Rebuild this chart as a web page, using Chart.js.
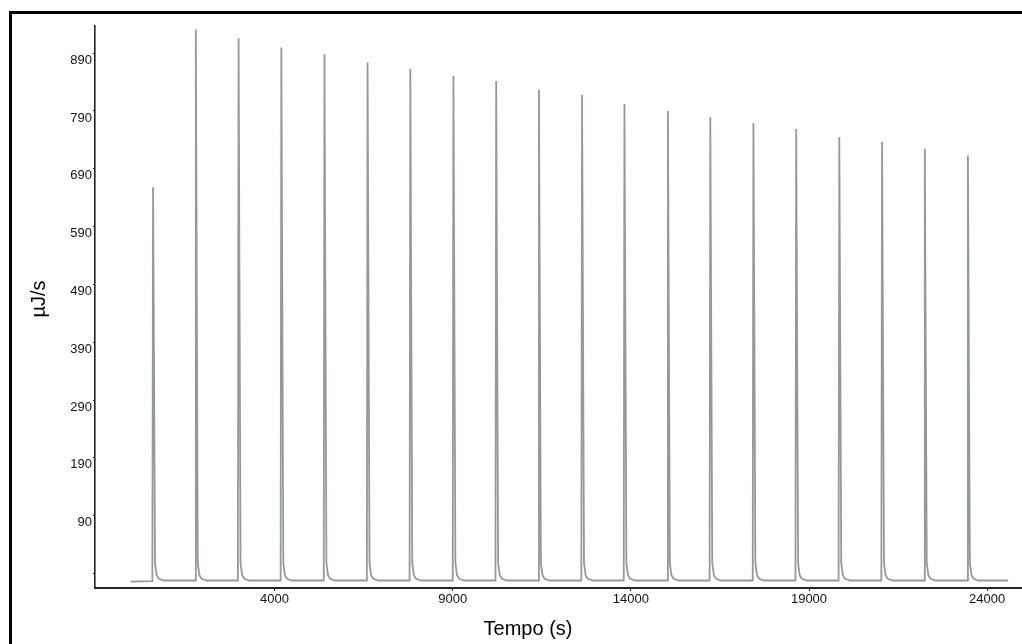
<!DOCTYPE html>
<html>
<head>
<meta charset="utf-8">
<script src="https://cdn.jsdelivr.net/npm/chart.js@4/dist/chart.umd.min.js"></script>
<style>
  html, body { margin: 0; padding: 0; background: #fff; }
  canvas { display: block; }
</style>
</head>
<body>
<canvas id="myChart" width="1022" height="644"></canvas>
<script>
// time (s) of each point, one peak per line
const timeS = [
  -40,
  570, 590, 645, 690, 750, 890,
  1770, 1790, 1845, 1890, 1950, 2090,
  2970, 2990, 3045, 3090, 3150, 3290,
  4170, 4190, 4245, 4290, 4350, 4490,
  5380, 5400, 5455, 5500, 5560, 5700,
  6590, 6610, 6665, 6710, 6770, 6910,
  7790, 7810, 7865, 7910, 7970, 8110,
  9000, 9020, 9075, 9120, 9180, 9320,
  10200, 10220, 10275, 10320, 10380, 10520,
  11400, 11420, 11475, 11520, 11580, 11720,
  12610, 12630, 12685, 12730, 12790, 12930,
  13800, 13820, 13875, 13920, 13980, 14120,
  15020, 15040, 15095, 15140, 15200, 15340,
  16210, 16230, 16285, 16330, 16390, 16530,
  17420, 17440, 17495, 17540, 17600, 17740,
  18620, 18640, 18695, 18740, 18800, 18940,
  19830, 19850, 19905, 19950, 20010, 20150,
  21030, 21050, 21105, 21150, 21210, 21350,
  22230, 22250, 22305, 22350, 22410, 22550,
  23440, 23460, 23515, 23560, 23620, 23760,
  24590
];

// heat flow (uJ/s) at those times
const heatFlow = [
  -24,
  -23, 658, 8, -13, -19, -22,
  -22, 931, 8, -13, -19, -22,
  -22, 916, 8, -13, -19, -22,
  -22, 900, 8, -13, -19, -22,
  -22, 888, 8, -13, -19, -22,
  -22, 874, 8, -13, -19, -22,
  -22, 863, 8, -13, -19, -22,
  -22, 851, 8, -13, -19, -22,
  -22, 842, 8, -13, -19, -22,
  -22, 827, 8, -13, -19, -22,
  -22, 818, 8, -13, -19, -22,
  -22, 802, 8, -13, -19, -22,
  -22, 790, 8, -13, -19, -22,
  -22, 779, 8, -13, -19, -22,
  -22, 769, 8, -13, -19, -22,
  -22, 759, 8, -13, -19, -22,
  -22, 745, 8, -13, -19, -22,
  -22, 737, 8, -13, -19, -22,
  -22, 725, 8, -13, -19, -22,
  -22, 713, 8, -13, -19, -22,
  -22
];

const xTicks = [4000, 9000, 14000, 19000, 24000];
const yTicks = [-10, 90, 190, 290, 390, 490, 590, 690, 790, 890];

const points = timeS.map((t, i) => ({ x: t, y: heatFlow[i] }));

// white page, frame and the two axis titles
const decorPlugin = {
  id: 'decor',
  beforeDraw(chart) {
    const ctx = chart.ctx;
    ctx.save();
    ctx.fillStyle = '#fff';
    ctx.fillRect(0, 0, chart.width, chart.height);
    ctx.strokeStyle = '#000';
    ctx.lineWidth = 3;
    ctx.beginPath();
    ctx.moveTo(10.5, 644);
    ctx.lineTo(10.5, 12.5);
    ctx.lineTo(1022, 12.5);
    ctx.stroke();
    ctx.restore();
  },
  afterDraw(chart) {
    const ctx = chart.ctx;
    ctx.save();
    ctx.fillStyle = '#000';
    ctx.font = '20px "Liberation Sans", Arial, sans-serif';
    ctx.textAlign = 'center';
    ctx.textBaseline = 'middle';
    ctx.fillText('Tempo (s)', 528, 629);
    ctx.translate(39, 299);
    ctx.rotate(-Math.PI / 2);
    ctx.fillText('µJ/s', 0, 0);
    ctx.restore();
  }
};

const tickFont = { family: '"Liberation Sans", Arial, sans-serif', size: 13 };

new Chart('myChart', {
  type: 'line',
  data: {
    datasets: [{
      data: points,
      borderColor: 'rgb(148,154,149)',
      borderWidth: 1.8,
      pointRadius: 0,
      tension: 0,
      fill: false
    }]
  },
  options: {
    responsive: false,
    animation: false,
    layout: { padding: { top: 26, right: 1, left: 0, bottom: 0 } },
    plugins: {
      legend: { display: false },
      tooltip: { enabled: false }
    },
    scales: {
      x: {
        type: 'linear',
        min: -1040,
        max: 24950,
        afterBuildTicks: (axis) => { axis.ticks = xTicks.map(v => ({ value: v })); },
        afterFit: (scale) => { scale.height = 56; },
        grid: { drawOnChartArea: false, tickLength: 3, color: '#222' },
        border: { color: '#222', width: 2 },
        ticks: {
          font: tickFont,
          color: '#111',
          padding: 1,
          maxRotation: 0,
          autoSkip: false,
          callback: (v) => String(v)
        }
      },
      y: {
        min: -35,
        max: 937,
        afterBuildTicks: (axis) => { axis.ticks = yTicks.map(v => ({ value: v })); },
        afterFit: (scale) => { scale.width = 95; },
        grid: { drawOnChartArea: false, tickLength: 2, color: '#222' },
        border: { color: '#222', width: 1.6 },
        ticks: {
          font: tickFont,
          color: '#111',
          padding: 1,
          labelOffset: 7,
          autoSkip: false,
          callback: (v) => (v === -10 ? '' : String(v))
        }
      }
    }
  },
  plugins: [decorPlugin]
});
</script>
</body>
</html>
